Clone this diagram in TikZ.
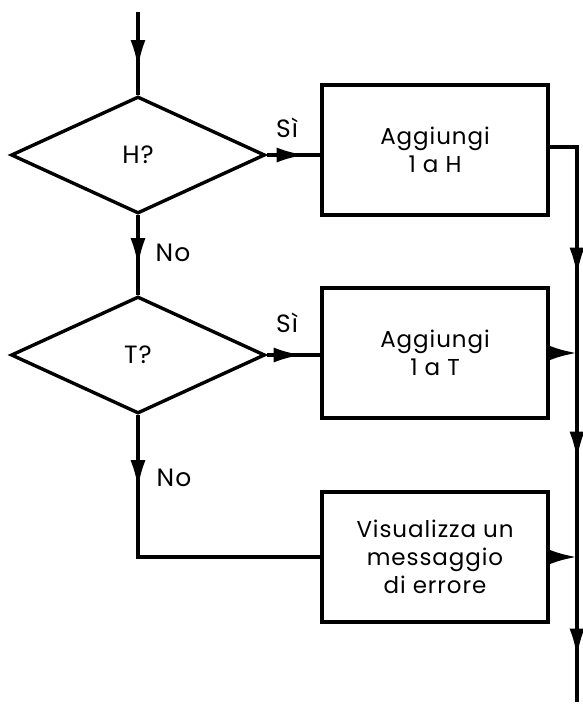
\documentclass[tikz,border=0pt]{standalone}
\usepackage{fontspec}
\setmainfont{Poppins}[LetterSpace=4]
\usetikzlibrary{shapes.geometric,arrows.meta,decorations.markings}
\tikzset{
  tip/.tip={Latex[length=28pt,width=15pt]},
  flow/.style={line width=3.4pt},
  decision/.style={diamond,draw,line width=3.4pt,inner sep=0pt,minimum width=254pt,minimum height=117pt,font=\fontsize{25}{28}\selectfont},
  action/.style={rectangle,draw,line width=3.4pt,inner sep=0pt,minimum width=226pt,minimum height=130pt,align=center,font=\fontsize{23}{28}\selectfont},
  lbl/.style={font=\fontsize{25}{28}\selectfont,inner sep=0pt},
  midarrow/.style={decoration={markings,mark=at position #1 with {\arrow{tip}}},postaction={decorate}}
}
\begin{document}
\begin{tikzpicture}[x=1pt,y=-1pt]
\useasboundingbox (0,0) rectangle (583,707);
% nodes
\coordinate (start) at (138,12);
\node[decision] (H) at (138,155) {H?};
\node[decision] (T) at (138,355) {T?};
\node[action] (A1) at (435,150) {Aggiungi\\1 a H};
\node[action] (A2) at (435,353) {Aggiungi\\1 a T};
\node[action] (A3) at (435,557) {Visualizza un\\messaggio\\di errore};
\coordinate (railtop) at (577,147);
\coordinate (railend) at (577,702);
\coordinate (nocorner) at (138,557);
% connectors
\draw[flow,midarrow=56pt] (start) -- (H.north);
\draw[flow,midarrow=38pt] (H.east) -- (H.east -| A1.west);
\draw[flow,midarrow=51pt] (H.south) -- (T.north);
\draw[flow,midarrow=35pt] (T.east) -- (T.east -| A2.west);
\draw[flow,midarrow=73pt] (T.south) -- (nocorner) -- (A3.west);
\draw[flow,-{tip}] (A2.east) -- (A2.east -| railtop);
\draw[flow,-{tip}] (A3.east) -- (A3.east -| railtop);
\draw[flow,decoration={markings,
    mark=at position 156pt with {\arrow{tip}},
    mark=at position 340pt with {\arrow{tip}},
    mark=at position 537pt with {\arrow{tip}}},postaction={decorate}]
  (A1.east |- railtop) -- (railtop) -- (railend);
% labels
\node[lbl] (si1) at (287,128) {Sì};
\node[lbl] (si2) at (287,323) {Sì};
\node[lbl] (no1) at (173,253) {No};
\node[lbl] (no2) at (174,478) {No};
\end{tikzpicture}
\end{document}
